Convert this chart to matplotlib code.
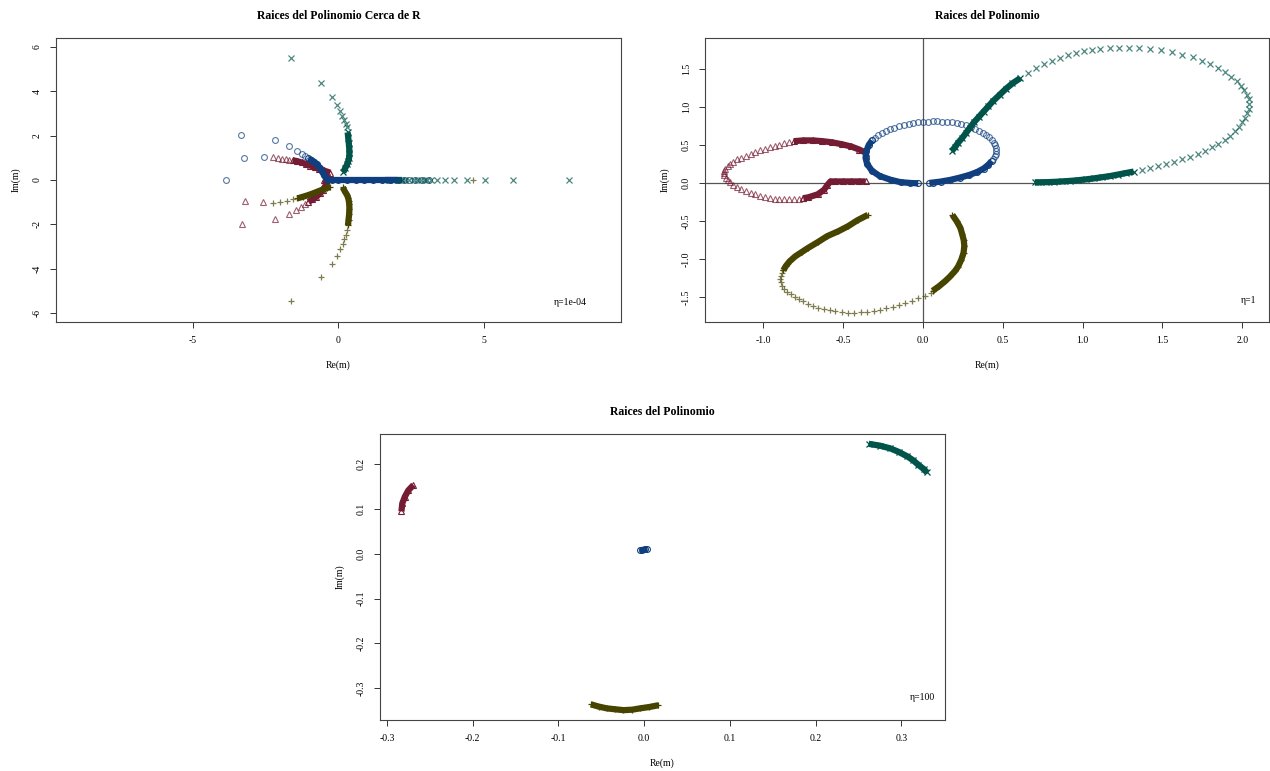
import matplotlib
matplotlib.use('Agg')
import matplotlib.pyplot as plt

plt.rcParams['font.family'] = ['Liberation Serif', 'DejaVu Serif']

# ---------------- colours / markers per root ----------------
col_blue = '#0F3F7E'
col_maroon = '#741C34'
col_olive = '#474400'
col_teal = '#00544A'

# ================= Panel 1 : eta = 1e-04 =================
p1_blue_pts_re = [-3.85, -3.33, -3.23, -2.54, -2.16, -1.68, -1.41, -1.24, -1.12, 2.25, 2.45, 2.65, 2.88, 3.12]
p1_blue_pts_im = [0.00, 2.03, 0.99, 1.04, 1.80, 1.53, 1.31, 1.19, 1.08, 0.0, 0.0, 0.0, 0.0, 0.0]
p1_blue_band_re = [-1.02, -0.92, -0.82, -0.72, -0.63, -0.56, -0.49, -0.42, -0.34, -0.2, 0.0, 0.3, 0.6, 0.9, 1.2, 1.5, 1.8, 2.05]
p1_blue_band_im = [0.98, 0.91, 0.82, 0.70, 0.56, 0.40, 0.24, 0.10, 0.01, 0.0, 0.0, 0.0, 0.0, 0.0, 0.0, 0.0, 0.0, 0.0]

p1_maroon_pts_re = [-3.31, -3.20, -2.57, -2.15, -1.68, -1.43, -1.26, -1.12, -2.22, -2.06, -1.92, -1.79, -1.67]
p1_maroon_pts_im = [-2.00, -0.97, -1.00, -1.76, -1.52, -1.34, -1.20, -1.08, 1.02, 1.00, 0.97, 0.94, 0.91]
p1_maroon_band1_re = [-1.56, -1.40, -1.25, -1.10, -0.95, -0.80, -0.65, -0.50, -0.38, -0.27]
p1_maroon_band1_im = [0.89, 0.85, 0.79, 0.72, 0.65, 0.58, 0.50, 0.43, 0.38, 0.33]
p1_maroon_band2_re = [-1.02, -0.88, -0.75, -0.62, -0.52, -0.44, -0.40, -0.42, -0.48]
p1_maroon_band2_im = [-0.99, -0.88, -0.76, -0.60, -0.44, -0.28, -0.14, -0.04, 0.02]

p1_olive_pts_re = [-1.60, -0.59, -0.22, -0.04, 0.07, 0.16, 0.22, 0.27, 0.32, -2.22, -2.00, -1.77, -1.55, 4.62]
p1_olive_pts_im = [-5.48, -4.38, -3.78, -3.42, -3.12, -2.88, -2.67, -2.48, -2.25, -1.02, -0.98, -0.93, -0.88, 0.0]
p1_olive_band1_re = [0.34, 0.36, 0.38, 0.39, 0.385, 0.37, 0.35, 0.31, 0.24, 0.16]
p1_olive_band1_im = [-2.05, -1.80, -1.55, -1.30, -1.10, -0.95, -0.82, -0.68, -0.53, -0.33]
p1_olive_band2_re = [-1.40, -1.19, -1.02, -0.85, -0.68, -0.50, -0.38, -0.27]
p1_olive_band2_im = [-0.83, -0.75, -0.68, -0.60, -0.51, -0.42, -0.36, -0.32]

p1_teal_pts_re = [-1.62, -0.59, -0.22, -0.02, 0.07, 0.15, 0.21, 0.26, 0.30,
                  2.30, 2.45, 2.60, 2.72, 2.84, 2.95, 3.05, 3.18, 3.39, 3.68, 4.00, 4.42, 5.05, 6.02, 7.93]
p1_teal_pts_im = [5.50, 4.38, 3.75, 3.38, 3.11, 2.88, 2.70, 2.52, 2.37,
                  0, 0, 0, 0, 0, 0, 0, 0, 0, 0, 0, 0, 0, 0, 0]
p1_teal_band1_re = [0.33, 0.35, 0.37, 0.385, 0.39, 0.38, 0.35, 0.31, 0.24, 0.18]
p1_teal_band1_im = [2.15, 1.90, 1.65, 1.40, 1.20, 1.00, 0.85, 0.70, 0.52, 0.35]
p1_teal_band2_re = [1.60, 1.75, 1.90, 2.05, 2.20]
p1_teal_band2_im = [0.0, 0.0, 0.0, 0.0, 0.0]

# ================= Panel 2 : eta = 1 =================
p2_blue_pts_re = [-0.32, -0.30, -0.28, -0.255, -0.23, -0.205, -0.18, -0.15, -0.12, -0.09, -0.06, -0.03, 0.0,
                  0.03, 0.06, 0.09, 0.12, 0.15, 0.18, 0.21, 0.24, 0.27, 0.30, 0.325, 0.35, 0.375, 0.395,
                  0.415, 0.43, 0.442, 0.45, 0.455, 0.457, 0.455, 0.45, 0.44]
p2_blue_pts_im = [0.56, 0.595, 0.625, 0.655, 0.68, 0.705, 0.725, 0.745, 0.762, 0.777, 0.788, 0.797, 0.803,
                  0.807, 0.81, 0.81, 0.808, 0.804, 0.797, 0.787, 0.774, 0.758, 0.738, 0.715, 0.69, 0.66, 0.63,
                  0.60, 0.565, 0.53, 0.495, 0.46, 0.42, 0.385, 0.35, 0.315]
p2_blue_band1_re = [-0.03, -0.08, -0.14, -0.20, -0.27, -0.32, -0.35, -0.36, -0.355, -0.34, -0.32]
p2_blue_band1_im = [-0.005, 0.0, 0.01, 0.04, 0.09, 0.16, 0.25, 0.33, 0.42, 0.50, 0.56]
p2_blue_band2_re = [0.43, 0.41, 0.38, 0.34, 0.29, 0.23, 0.17, 0.11, 0.06, 0.04]
p2_blue_band2_im = [0.29, 0.24, 0.19, 0.145, 0.105, 0.07, 0.04, 0.018, 0.005, 0.0]

p2_maroon_pts_re = [-0.75, -0.78, -0.81, -0.84, -0.87, -0.90, -0.93, -0.96, -0.99, -1.02, -1.05, -1.08,
                    -1.11, -1.14, -1.165, -1.19, -1.21, -1.225, -1.237, -1.245, -1.247, -1.245, -1.238,
                    -1.225, -1.21, -1.19, -1.165, -1.14, -1.11, -1.08, -1.05, -1.02, -0.99, -0.96, -0.93,
                    -0.90, -0.87, -0.84]
p2_maroon_pts_im = [-0.20, -0.207, -0.212, -0.214, -0.214, -0.211, -0.205, -0.196, -0.184, -0.169, -0.151,
                    -0.13, -0.106, -0.079, -0.052, -0.022, 0.008, 0.04, 0.07, 0.10, 0.13, 0.16, 0.19, 0.22,
                    0.25, 0.28, 0.31, 0.335, 0.36, 0.385, 0.41, 0.43, 0.45, 0.47, 0.49, 0.505, 0.52, 0.535]
p2_maroon_band1_re = [-0.36, -0.40, -0.45, -0.50, -0.55, -0.58, -0.60, -0.62, -0.66, -0.72, -0.75]
p2_maroon_band1_im = [0.02, 0.02, 0.02, 0.02, 0.02, 0.02, -0.03, -0.09, -0.15, -0.19, -0.20]
p2_maroon_band2_re = [-0.81, -0.75, -0.69, -0.63, -0.57, -0.51, -0.45, -0.40, -0.36]
p2_maroon_band2_im = [0.55, 0.56, 0.56, 0.55, 0.535, 0.51, 0.48, 0.44, 0.40]

p2_olive_pts_re = [-0.875, -0.885, -0.892, -0.894, -0.89, -0.882, -0.868, -0.85, -0.83, -0.805, -0.78,
                   -0.75, -0.72, -0.69, -0.655, -0.62, -0.585, -0.55, -0.51, -0.47, -0.43, -0.39, -0.35,
                   -0.31, -0.27, -0.23, -0.19, -0.15, -0.11, -0.07, -0.03, 0.01, 0.05]
p2_olive_pts_im = [-1.15, -1.19, -1.23, -1.27, -1.31, -1.35, -1.39, -1.43, -1.465, -1.50, -1.53, -1.56,
                   -1.59, -1.615, -1.64, -1.66, -1.675, -1.69, -1.70, -1.705, -1.705, -1.70, -1.695,
                   -1.685, -1.67, -1.65, -1.63, -1.605, -1.58, -1.55, -1.52, -1.485, -1.445]
p2_olive_band1_re = [-0.345, -0.41, -0.47, -0.53, -0.60, -0.66, -0.72, -0.76, -0.80, -0.835, -0.86, -0.875]
p2_olive_band1_im = [-0.42, -0.49, -0.57, -0.635, -0.70, -0.78, -0.855, -0.91, -0.965, -1.03, -1.095, -1.15]
p2_olive_band2_re = [0.06, 0.10, 0.14, 0.17, 0.20, 0.22, 0.24, 0.254, 0.259, 0.255, 0.245, 0.234, 0.21, 0.184]
p2_olive_band2_im = [-1.42, -1.36, -1.29, -1.23, -1.16, -1.10, -1.01, -0.92, -0.83, -0.75, -0.67, -0.59, -0.50, -0.42]

p2_teal_pts_re = [0.66, 0.71, 0.76, 0.81, 0.86, 0.91, 0.96, 1.01, 1.06, 1.11, 1.17, 1.23, 1.29, 1.355, 1.42,
                  1.49, 1.56, 1.625, 1.69, 1.75, 1.80, 1.85, 1.89, 1.93, 1.965, 1.99, 2.01, 2.03, 2.04,
                  2.045, 2.04, 2.03, 2.015, 2.00, 1.98, 1.955, 1.925, 1.89, 1.85, 1.81, 1.765, 1.72, 1.67,
                  1.62, 1.57, 1.52, 1.47, 1.42, 1.37]
p2_teal_pts_im = [1.45, 1.51, 1.56, 1.60, 1.64, 1.68, 1.71, 1.735, 1.75, 1.765, 1.775, 1.78, 1.78, 1.775, 1.765,
                  1.745, 1.72, 1.69, 1.655, 1.61, 1.565, 1.515, 1.46, 1.40, 1.34, 1.28, 1.22, 1.16, 1.10,
                  1.04, 0.98, 0.92, 0.86, 0.80, 0.74, 0.68, 0.62, 0.565, 0.515, 0.47, 0.425, 0.385, 0.345,
                  0.31, 0.28, 0.25, 0.22, 0.195, 0.17]
p2_teal_band1_re = [0.18, 0.20, 0.22, 0.245, 0.27, 0.295, 0.32, 0.35, 0.38, 0.41, 0.44, 0.48, 0.52, 0.56, 0.61]
p2_teal_band1_im = [0.42, 0.47, 0.53, 0.59, 0.66, 0.73, 0.80, 0.87, 0.94, 1.01, 1.08, 1.16, 1.24, 1.31, 1.38]
p2_teal_band2_re = [1.32, 1.27, 1.22, 1.17, 1.12, 1.07, 1.02, 0.97, 0.92, 0.87, 0.82, 0.77, 0.72, 0.70]
p2_teal_band2_im = [0.15, 0.13, 0.11, 0.09, 0.075, 0.06, 0.047, 0.036, 0.027, 0.02, 0.014, 0.01, 0.008, 0.007]

# ================= Panel 3 : eta = 100 =================
p3_maroon_band_re = [-0.269, -0.275, -0.279, -0.282, -0.283]
p3_maroon_band_im = [0.154, 0.142, 0.128, 0.113, 0.095]
p3_teal_band_re = [0.262, 0.275, 0.287, 0.297, 0.307, 0.314, 0.320, 0.326, 0.330]
p3_teal_band_im = [0.246, 0.242, 0.236, 0.228, 0.218, 0.209, 0.199, 0.190, 0.182]
p3_olive_band_re = [-0.062, -0.053, -0.0435, -0.034, -0.024, -0.014, -0.0047, 0.006, 0.0167]
p3_olive_band_im = [-0.336, -0.341, -0.345, -0.347, -0.349, -0.348, -0.345, -0.342, -0.338]
p3_blue_band_re = [-0.005, -0.002, 0.001, 0.004]
p3_blue_band_im = [0.008, 0.009, 0.010, 0.011]

# ---------------- tick labels ----------------
p1_xticks = [-5, 0, 5]
p1_yticks = [-6, -4, -2, 0, 2, 4, 6]
p2_xticks = [-1.0, -0.5, 0.0, 0.5, 1.0, 1.5, 2.0]
p2_yticks = [-1.5, -1.0, -0.5, 0.0, 0.5, 1.0, 1.5]
p3_xticks = [-0.3, -0.2, -0.1, 0.0, 0.1, 0.2, 0.3]
p3_yticks = [-0.3, -0.2, -0.1, 0.0, 0.1, 0.2]

MS = 4.2
BAND_LW = 4.5


def pts(ax, re, im, marker, color, z):
    if marker in ('o', '^'):
        ax.plot(re, im, linestyle='none', marker=marker, markersize=MS, markerfacecolor='none',
                markeredgecolor=color, markeredgewidth=0.8, alpha=0.7, zorder=z)
    else:
        ax.plot(re, im, linestyle='none', marker=marker, markersize=MS + 0.6, color=color,
                markeredgewidth=0.9, alpha=0.7, zorder=z)


def band(ax, re, im, marker, color, z):
    ax.plot(re, im, color=color, linewidth=BAND_LW, solid_capstyle='butt', solid_joinstyle='round', zorder=z)
    if marker in ('o', '^'):
        ax.plot(re, im, linestyle='none', marker=marker, markersize=MS, markerfacecolor='none',
                markeredgecolor=color, markeredgewidth=0.8, zorder=z)
    else:
        ax.plot(re, im, linestyle='none', marker=marker, markersize=MS + 0.6, color=color,
                markeredgewidth=0.9, zorder=z)


def style(ax, xt, yt, xlim, ylim, fmt, title, eta):
    ax.set_xlim(*xlim)
    ax.set_ylim(*ylim)
    ax.set_xticks(xt)
    ax.set_yticks(yt)
    ax.set_xticklabels([fmt(v) for v in xt])
    ax.set_yticklabels([fmt(v) for v in yt], rotation=90, va='center')
    ax.tick_params(direction='out', length=4, width=0.7, labelsize=7, pad=6, color='#333333')
    for s in ax.spines.values():
        s.set_linewidth(0.8)
        s.set_color('#444444')
    ax.set_xlabel('Re(m)', fontsize=7, labelpad=11)
    ax.set_ylabel('Im(m)', fontsize=7, labelpad=9)
    ax.set_title(title, fontsize=8.5, fontweight='bold', pad=14)
    ax.text(eta[0], eta[1], eta[2], transform=ax.transAxes, ha='center', va='center', fontsize=7)


fig = plt.figure(figsize=(12.7, 7.71), dpi=100)
ax1 = fig.add_axes([56 / 1270, 1 - 322 / 771, 565 / 1270, 284 / 771])
ax2 = fig.add_axes([705 / 1270, 1 - 322 / 771, 564 / 1270, 284 / 771])
ax3 = fig.add_axes([380 / 1270, 1 - 720 / 771, 565 / 1270, 286 / 771])

# ---- panel 1 ----
pts(ax1, p1_maroon_pts_re, p1_maroon_pts_im, '^', col_maroon, 2)
band(ax1, p1_maroon_band1_re, p1_maroon_band1_im, '^', col_maroon, 2)
band(ax1, p1_maroon_band2_re, p1_maroon_band2_im, '^', col_maroon, 2)
pts(ax1, p1_blue_pts_re, p1_blue_pts_im, 'o', col_blue, 3)
band(ax1, p1_blue_band_re, p1_blue_band_im, 'o', col_blue, 3)
pts(ax1, p1_olive_pts_re, p1_olive_pts_im, '+', col_olive, 4)
band(ax1, p1_olive_band1_re, p1_olive_band1_im, '+', col_olive, 4)
band(ax1, p1_olive_band2_re, p1_olive_band2_im, '+', col_olive, 4)
band(ax1, p1_teal_band2_re, p1_teal_band2_im, 'x', col_teal, 2.5)
pts(ax1, p1_teal_pts_re, p1_teal_pts_im, 'x', col_teal, 5)
band(ax1, p1_teal_band1_re, p1_teal_band1_im, 'x', col_teal, 5)
style(ax1, p1_xticks, p1_yticks, (-9.69, 9.72), (-6.41, 6.41), lambda v: '%d' % v,
      'Raices del Polinomio Cerca de R', (0.91, 0.07, 'η=1e-04'))

# ---- panel 2 ----
ax2.axhline(0, color='#555555', linewidth=0.9, zorder=1)
ax2.axvline(0, color='#555555', linewidth=0.9, zorder=1)
pts(ax2, p2_maroon_pts_re, p2_maroon_pts_im, '^', col_maroon, 2)
band(ax2, p2_maroon_band1_re, p2_maroon_band1_im, '^', col_maroon, 2)
band(ax2, p2_maroon_band2_re, p2_maroon_band2_im, '^', col_maroon, 2)
pts(ax2, p2_blue_pts_re, p2_blue_pts_im, 'o', col_blue, 3)
band(ax2, p2_blue_band1_re, p2_blue_band1_im, 'o', col_blue, 3)
band(ax2, p2_blue_band2_re, p2_blue_band2_im, 'o', col_blue, 3)
pts(ax2, p2_olive_pts_re, p2_olive_pts_im, '+', col_olive, 4)
band(ax2, p2_olive_band1_re, p2_olive_band1_im, '+', col_olive, 4)
band(ax2, p2_olive_band2_re, p2_olive_band2_im, '+', col_olive, 4)
pts(ax2, p2_teal_pts_re, p2_teal_pts_im, 'x', col_teal, 5)
band(ax2, p2_teal_band1_re, p2_teal_band1_im, 'x', col_teal, 5)
band(ax2, p2_teal_band2_re, p2_teal_band2_im, 'x', col_teal, 5)
style(ax2, p2_xticks, p2_yticks, (-1.366, 2.168), (-1.83, 1.908), lambda v: '%.1f' % v,
      'Raices del Polinomio', (0.963, 0.074, 'η=1'))

# ---- panel 3 ----
band(ax3, p3_maroon_band_re, p3_maroon_band_im, '^', col_maroon, 2)
band(ax3, p3_blue_band_re, p3_blue_band_im, 'o', col_blue, 3)
band(ax3, p3_olive_band_re, p3_olive_band_im, '+', col_olive, 4)
band(ax3, p3_teal_band_re, p3_teal_band_im, 'x', col_teal, 5)
style(ax3, p3_xticks, p3_yticks, (-0.308, 0.351), (-0.371, 0.268), lambda v: '%.1f' % v,
      'Raices del Polinomio', (0.961, 0.077, 'η=100'))

fig.savefig('out.png', dpi=100)
